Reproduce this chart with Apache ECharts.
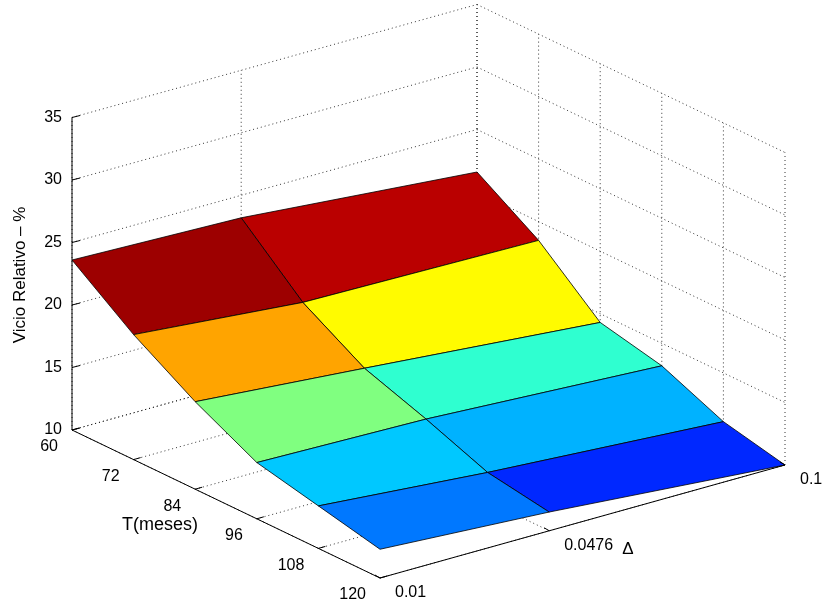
<!DOCTYPE html>
<html><head><meta charset="utf-8">
<script src="https://cdn.jsdelivr.net/npm/echarts@6/dist/echarts.min.js"></script>
<style>html,body{margin:0;background:#fff}#c{width:823px;height:606px}</style>
</head><body><div id="c"></div>
<script>
const T = [60, 72, 84, 96, 108, 120];
const D = [0.01, 0.0476, 0.1];
// Z[i][j]: T[i], D[j]
const Z = [
  [23.6, 23.2, 21.6],
  [20.0, 18.8, 18.5],
  [17.0, 15.9, 14.3],
  [14.5, 14.2, 13.2],
  [13.4, 12.3, 11.1],
  [12.3, 11.5, 10.0]
];
const zTicks = [10, 15, 20, 25, 30, 35];
const tTicks = [60, 72, 84, 96, 108, 120];
const dTicks = [0.01, 0.0476, 0.1];
const dTickLabels = ['0.01', '0.0476', '0.1'];

function P(t, d, z) {
  const ft = (t - 60) / 60, fd = (d - 0.01) / 0.09;
  return [72 + ft * 308 + fd * 405, 430 + ft * 148 - fd * 113 - (z - 10) * 12.5];
}
function jet(v) {
  const c = x => Math.max(0, Math.min(1, x));
  const r = c(1.5 - Math.abs(4 * v - 3)), g = c(1.5 - Math.abs(4 * v - 2)), b = c(1.5 - Math.abs(4 * v - 1));
  return 'rgb(' + [r, g, b].map(x => Math.round(x * 255)).join(',') + ')';
}
const zmin = Math.min(...Z.flat()), zmax = Math.max(...Z.flat()) + 0.4;
const font = 'Liberation Sans, Arial, sans-serif';

const chart = echarts.init(document.getElementById('c'));
chart.setOption({
  animation: false,
  grid: {left: 0, right: 0, top: 0, bottom: 0},
  xAxis: {type: 'value', min: 0, max: 823, show: false},
  yAxis: {type: 'value', min: 0, max: 606, inverse: true, show: false},
  series: [{
    type: 'custom', data: [[0, 0]], clip: false,
    renderItem: function (params, api) {
      const C = (t, d, z) => api.coord(P(t, d, z));
      const ch = [];
      const dot = {stroke: '#000', lineWidth: 0.8, lineDash: [1, 3]};
      const line = (a, b, style) => ch.push({type: 'line', shape: {x1: a[0], y1: a[1], x2: b[0], y2: b[1]}, style});
      const zlo = 10, zhi = 35, tB = 60, dB = 0.1;
      zTicks.forEach(z => line(C(tB, 0.01, z), C(tB, 0.1, z), dot));
      dTicks.forEach(d => line(C(tB, d, zlo), C(tB, d, zhi), dot));
      zTicks.forEach(z => line(C(60, dB, z), C(120, dB, z), dot));
      tTicks.forEach(t => line(C(t, dB, zlo), C(t, dB, zhi), dot));
      tTicks.forEach(t => line(C(t, 0.01, zlo), C(t, 0.1, zlo), dot));
      dTicks.forEach(d => line(C(60, d, zlo), C(120, d, zlo), dot));
      for (let i = 0; i < T.length - 1; i++) {
        for (let j = D.length - 2; j >= 0; j--) {
          const pts = [C(T[i], D[j], Z[i][j]), C(T[i], D[j + 1], Z[i][j + 1]), C(T[i + 1], D[j + 1], Z[i + 1][j + 1]), C(T[i + 1], D[j], Z[i + 1][j])];
          ch.push({type: 'polygon', shape: {points: pts}, style: {fill: jet((Z[i][j] - zmin) / (zmax - zmin)), stroke: '#000', lineWidth: 0.8}});
        }
      }
      const solid = {stroke: '#000', lineWidth: 1};
      line(C(60, 0.01, zlo), C(60, 0.01, zhi), solid);
      line(C(60, 0.01, zlo), C(120, 0.01, zlo), solid);
      line(C(120, 0.01, zlo), C(120, 0.1, zlo), solid);
      const txt = (p, s, align, extra) => ch.push({type: 'text', x: p[0], y: p[1], rotation: extra && extra.rot || 0,
        style: {text: s, fill: '#000', font: (extra && extra.size || 16) + 'px ' + font, align: align, verticalAlign: 'middle'}});
      zTicks.forEach(z => {
        const p = C(60, 0.01, z);
        line(p, [p[0] + 8, p[1] - 2], solid);
        txt([p[0] - 10, p[1]], String(z), 'right');
      });
      tTicks.forEach(t => {
        const p = C(t, 0.01, zlo);
        line(p, [p[0] + 7, p[1] - 2], solid);
        txt([p[0] - 14, p[1] + 17], String(t), 'right');
      });
      dTicks.forEach((d, k) => {
        const p = C(120, d, zlo);
        line(p, [p[0] - 5, p[1] - 3], solid);
        txt([p[0] + 15, p[1] + 15], dTickLabels[k], 'left');
      });
      txt([20, 275], 'Vicio Relativo – %', 'center', {rot: Math.PI / 2, size: 17});
      txt([160, 525], 'T(meses)', 'center', {size: 18});
      txt([628, 549], 'Δ', 'center', {size: 17});
      return {type: 'group', children: ch};
    }
  }]
});
</script></body></html>
